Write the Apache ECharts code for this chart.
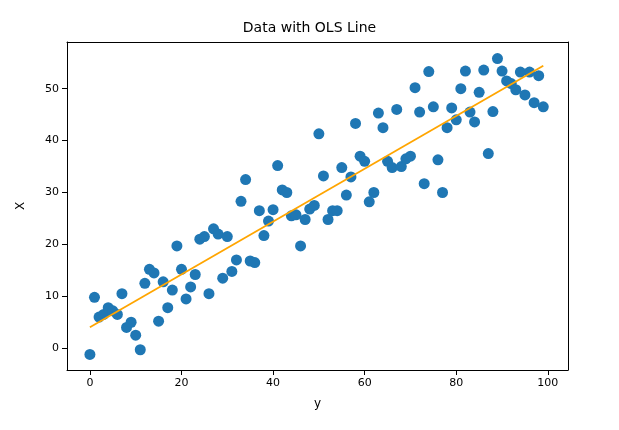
<!DOCTYPE html>
<html><head><meta charset="utf-8">
<script src="https://cdn.jsdelivr.net/npm/echarts@6/dist/echarts.min.js"></script>
<style>html,body{margin:0;padding:0;background:#fff}#c{width:619px;height:430px}</style>
</head><body><div id="c"></div>
<script>
var xValues = [];
for (var i = 0; i < 100; i++) xValues.push(i);
var yValues = [-1.2,9.8,6,6.5,7.8,7.2,6.5,10.5,4,5,2.5,-0.3,12.5,15.2,14.5,5.2,12.8,7.8,11.2,19.7,
15.2,9.5,11.8,14.2,21,21.5,10.5,23,22,13.5,21.5,14.8,17,28.3,32.5,16.8,16.5,26.5,21.7,24.5,
26.7,35.2,30.5,30,25.5,25.7,19.7,24.8,26.8,27.5,41.3,33.2,24.8,26.5,26.5,34.8,29.5,33,43.3,37,
36,28.2,30,45.3,42.5,36,34.8,46,35,36.5,37,50.2,45.5,31.7,53.3,46.5,36.3,30,42.5,46.3,
44,50,53.4,45.5,43.6,49.3,53.6,37.5,45.6,55.8,53.4,51.5,51,49.8,53.2,48.8,53.2,47.3,52.5,46.5];
var n = xValues.length, mx = 0, my = 0;
for (var i = 0; i < n; i++) { mx += xValues[i]; my += yValues[i]; }
mx /= n; my /= n;
var sxy = 0, sxx = 0;
for (var i = 0; i < n; i++) { sxy += (xValues[i]-mx)*(yValues[i]-my); sxx += (xValues[i]-mx)*(xValues[i]-mx); }
var b = sxy / sxx, a = my - b * mx;
var pts = xValues.map(function(x, i){ return [x, yValues[i]]; });
var line = [[xValues[0], a + b*xValues[0]], [xValues[n-1], a + b*xValues[n-1]]];
var font = 'DejaVu Sans';
var frame = {show: true, onZero: false, lineStyle: {color: '#000'}};
var chart = echarts.init(document.getElementById('c'));
chart.setOption({
  animation: false,
  title: {text: 'Data with OLS Line', left: 'center', top: 16, textStyle: {fontFamily: font, fontSize: 14, fontWeight: 'normal', color: '#000'}},
  grid: {left: 67, right: 51, top: 42, bottom: 60},
  xAxis: [{type: 'value', min: -5, max: 104.4, name: 'y', nameLocation: 'middle', nameGap: 28,
    nameTextStyle: {fontFamily: font, fontSize: 12, color: '#000'},
    axisLine: frame, axisTick: {lineStyle: {color: '#000'}},
    axisLabel: {fontFamily: font, fontSize: 11, color: '#000', showMinLabel: false, showMaxLabel: false}, splitLine: {show: false}},
    {type: 'value', position: 'top', min: -5, max: 104.4, axisLine: frame, axisTick: {show: false}, axisLabel: {show: false}, splitLine: {show: false}}],
  yAxis: [{type: 'value', min: -4.2, max: 59, name: 'X', nameLocation: 'middle', nameGap: 40,
    nameTextStyle: {fontFamily: font, fontSize: 12, color: '#000'},
    axisLine: frame, axisTick: {show: true, lineStyle: {color: '#000'}},
    axisLabel: {fontFamily: font, fontSize: 11, color: '#000', showMinLabel: false, showMaxLabel: false}, splitLine: {show: false}},
    {type: 'value', position: 'right', min: -4.2, max: 59, axisLine: frame, axisTick: {show: false}, axisLabel: {show: false}, splitLine: {show: false}}],
  series: [
    {type: 'scatter', data: pts, symbolSize: 11, itemStyle: {color: '#1f77b4', opacity: 1}},
    {type: 'line', data: line, symbol: 'none', lineStyle: {color: '#ffa500', width: 1.8}}
  ]
});
</script></body></html>
